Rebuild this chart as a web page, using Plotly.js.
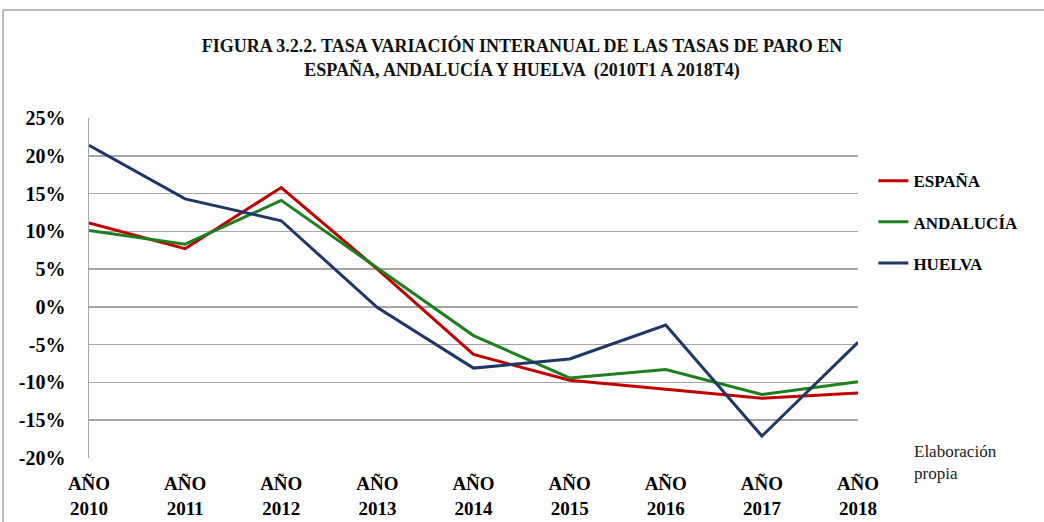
<!DOCTYPE html>
<html><head><meta charset="utf-8">
<script src="https://cdn.plot.ly/plotly-3.0.1.min.js"></script>
<style>html,body{margin:0;padding:0;background:#fff}#c{width:1044px;height:522px}</style>
</head><body><div id="c"></div>
<script>
const years = ['2010','2011','2012','2013','2014','2015','2016','2017','2018'];
const tickLabels = ['AÑO<br>2010','AÑO<br>2011','AÑO<br>2012','AÑO<br>2013','AÑO<br>2014','AÑO<br>2015','AÑO<br>2016','AÑO<br>2017','AÑO<br>2018'];
const espana    = [11.1, 7.7, 15.8, 5.0, -6.3, -9.7, -10.9, -12.1, -11.4];
const andalucia = [10.1, 8.3, 14.1, 5.2, -3.8, -9.4, -8.3, -11.6, -9.9];
const huelva    = [21.4, 14.3, 11.4, -0.1, -8.1, -6.9, -2.4, -17.1, -4.7];
const seriesNames = ['ESPAÑA','ANDALUCÍA','HUELVA'];
const yTicks = [-20,-15,-10,-5,0,5,10,15,20,25];

const serif = '"Liberation Serif", "DejaVu Serif", serif';
const colors = ['#C00000','#1E7F1E','#1F3768'];
const data = [espana, andalucia, huelva].map((v,i)=>({
  x: years, y: v, name: seriesNames[i], type:'scatter', mode:'lines',
  legendgroup: 'g'+i,
  line:{color:colors[i], width:3}
}));

const layout = {
  width:1044, height:522,
  margin:{l:89, r:186, t:118, b:64},
  paper_bgcolor:'#fff', plot_bgcolor:'#fff',
  title:{text:'FIGURA 3.2.2. TASA VARIACIÓN INTERANUAL DE LAS TASAS DE PARO EN<br>ESPAÑA, ANDALUCÍA Y HUELVA  (2010T1 A 2018T4)',
    x:0.5, xref:'container', y:0.9, yref:'container', yanchor:'middle',
    font:{family:serif, size:18, color:'#111', weight:'bold'}},
  font:{family:serif, color:'#000'},
  xaxis:{type:'category', range:[0,8], tickvals:years, ticktext:tickLabels,
    showgrid:false, zeroline:false, showline:false, ticks:'', ticklabelstandoff:12,
    tickfont:{family:serif, size:19, color:'#000', weight:'bold'}},
  yaxis:{range:[-20,25], tickvals:yTicks, ticktext:yTicks.map(v=>v+'%'),
    showgrid:true, gridcolor:'#A6A6A6', gridwidth:1.5, zeroline:false,
    showline:true, linecolor:'#A6A6A6', linewidth:1.5, ticks:'', ticklen:0, ticklabelstandoff:18,
    tickfont:{family:serif, size:20, color:'#000', weight:'bold'}},
  showlegend:true,
  legend:{x:1.02, xanchor:'left', y:0.867, yanchor:'top', tracegroupgap:16,
    font:{family:serif, size:17, color:'#000', weight:'bold'}, bgcolor:'rgba(0,0,0,0)'},
  annotations:[{text:'Elaboración<br>propia', xref:'paper', yref:'paper', x:1.07, y:-0.012,
    xanchor:'left', yanchor:'middle', align:'left', showarrow:false,
    font:{family:serif, size:17, color:'#222'}}],
  shapes:[
    {type:'line', xref:'paper', yref:'paper', x0:-0.1118, x1:1.3, y0:1.3176, y1:1.3176, line:{color:'#A6A6A6', width:1.5}},
    {type:'line', xref:'paper', yref:'paper', x0:-0.1118, x1:-0.1118, y0:1.3176, y1:-0.3, line:{color:'#A6A6A6', width:1.5}}
  ]
};
Plotly.newPlot('c', data, layout, {displayModeBar:false, staticPlot:true});
</script></body></html>
